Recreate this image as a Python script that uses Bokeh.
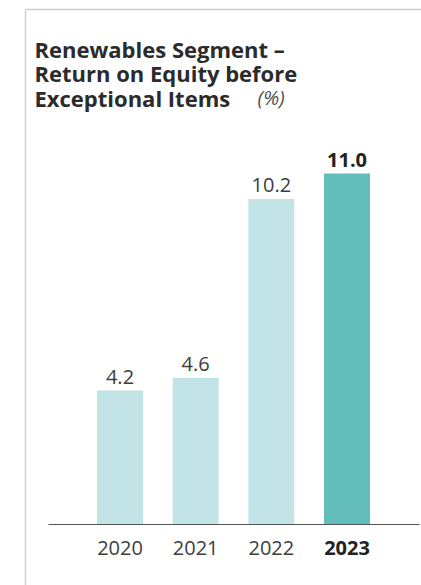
from bokeh.plotting import figure
from bokeh.models import Range1d, ColumnDataSource, Label, FixedTicker, LinearAxis
from bokeh.embed import file_html
from bokeh.resources import INLINE
from bokeh.core.properties import value

# ---- data ----
years = ["2020", "2021", "2022", "2023"]
roe = [4.2, 4.6, 10.2, 11.0]
value_labels = ["4.2", "4.6", "10.2", "11.0"]
highlight = [False, False, False, True]
title_lines = ["Renewables Segment \u2013", "Return on Equity before", "Exceptional Items"]
unit_label = "(%)"

# ---- layout constants (figure pixels) ----
W, H = 421, 585
PX_X = 75.67          # px per category step
X0 = 119.5            # centre of first bar
BASE = 524.0          # baseline y from top
PX_Y = 31.9           # px per percentage point
BAR_W = 46.0

x_start = -X0 / PX_X
x_end = (W - X0) / PX_X
y_end = BASE / PX_Y
y_start = -(H - BASE) / PX_Y


def dx(px):
    return x_start + px / PX_X


def dy(py):
    return y_end - py / PX_Y


FONT = "Open Sans"
LIGHT = "#c3e4e6"
DARK = "#63bdbb"

xs = list(range(len(years)))
src = ColumnDataSource(dict(
    x=xs,
    top=roe,
    label=value_labels,
    color=[DARK if h else LIGHT for h in highlight],
    style=["bold" if h else "normal" for h in highlight],
    tcolor=["#222222" if h else "#3d3d3d" for h in highlight],
))

p = figure(width=W, height=H, output_backend="svg", toolbar_location=None,
           x_range=Range1d(x_start, x_end), y_range=Range1d(y_start, y_end),
           min_border=0, min_border_left=0, min_border_right=0,
           min_border_top=0, min_border_bottom=0,
           y_axis_location=None, x_axis_location="below")
p.outline_line_color = None
p.grid.visible = False
p.background_fill_color = "white"
p.border_fill_color = "white"

# frame lines (top + left)
p.segment(x0=[dx(25), dx(25)], y0=[dy(9), dy(9)], x1=[dx(25), dx(W)], y1=[dy(H), dy(9)],
          line_color="#cfcfcf", line_width=1.5)

p.vbar(x="x", top="top", width=BAR_W / PX_X, bottom=0, fill_color="color",
       line_color=None, source=src)

p.text(x="x", y="top", text="label", source=src, text_align="center",
       text_baseline="bottom", y_offset=-7, text_font=value(FONT),
       text_font_size="20px", text_font_style="style", text_color="tcolor")

# x axes at baseline
ax = p.xaxis[0]
ax.fixed_location = 0
ax.ticker = FixedTicker(ticks=xs[:-1])
ax.major_label_overrides = {i: years[i] for i in xs[:-1]}
ax.bounds = (dx(48), dx(419))
ax.axis_line_color = "#555555"
ax.axis_line_width = 1.2
ax.major_tick_line_color = None
ax.minor_tick_line_color = None
ax.major_label_text_font = FONT
ax.major_label_text_font_size = "20px"
ax.major_label_text_color = "#3d3d3d"
ax.major_label_standoff = 10

ax2 = LinearAxis(fixed_location=0, ticker=FixedTicker(ticks=[xs[-1]]),
                 major_label_overrides={xs[-1]: years[-1]})
ax2.axis_line_color = None
ax2.major_tick_line_color = None
ax2.minor_tick_line_color = None
ax2.major_label_text_font = FONT
ax2.major_label_text_font_size = "20px"
ax2.major_label_text_font_style = "bold"
ax2.major_label_text_color = "#222222"
ax2.major_label_standoff = 10
p.add_layout(ax2, "below")

# title
for i, line in enumerate(title_lines):
    p.add_layout(Label(x=dx(34), y=dy(48 + 24.5 * i), text=line, text_font=FONT,
                       text_font_size="22px", text_font_style="bold",
                       text_color="#2b2b2b", text_baseline="alphabetic"))
p.add_layout(Label(x=dx(257), y=dy(97), text=unit_label, text_font=FONT,
                   text_font_size="20px", text_font_style="italic",
                   text_color="#505050", text_baseline="alphabetic"))

open("out.html", "w").write(file_html(p, INLINE))
